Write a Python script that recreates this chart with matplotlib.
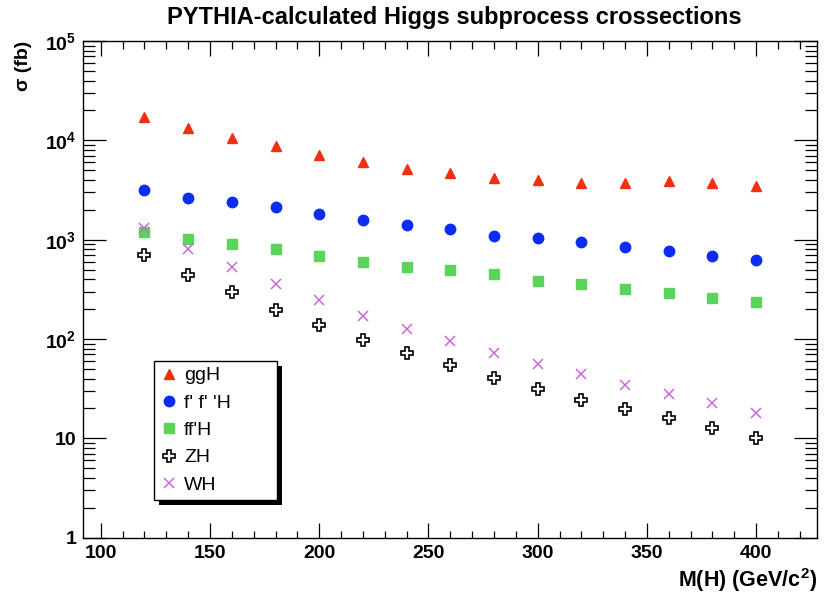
import matplotlib
matplotlib.use("Agg")
import matplotlib.pyplot as plt
from matplotlib.ticker import LogLocator, FixedLocator, MultipleLocator, NullFormatter
from matplotlib.patches import Rectangle
from matplotlib.transforms import IdentityTransform

plt.rcParams['font.family'] = ['Liberation Sans', 'DejaVu Sans']
plt.rcParams['mathtext.fontset'] = 'custom'
plt.rcParams['mathtext.rm'] = 'Liberation Sans:bold'
plt.rcParams['mathtext.bf'] = 'Liberation Sans:bold'
plt.rcParams['mathtext.it'] = 'Liberation Sans:bold'

mass = [120, 140, 160, 180, 200, 220, 240, 260, 280, 300, 320, 340, 360, 380, 400]
ggH = [17300, 13400, 10450, 8740, 7040, 6030, 5170, 4640, 4200, 3970, 3740, 3740, 3940, 3740, 3510]
ffH_prime = [3150, 2610, 2380, 2120, 1800, 1560, 1410, 1285, 1100, 1043, 942, 838, 764, 681, 620]
ffH = [1188, 1019, 907, 800, 691, 601, 535, 492, 448, 384, 361, 319, 291, 257, 236]
ZH = [697, 442, 298, 197, 137, 98.4, 72.3, 54.7, 40.5, 31.6, 24.6, 19.95, 16.0, 12.7, 10.2]
WH = [1303, 808, 527, 358, 247, 172, 126, 95.5, 72.3, 56.4, 44.4, 34.6, 27.9, 22.6, 18.2]

labels = ["ggH", "f' f' 'H", "ff'H", "ZH", "WH"]
xticks = [100, 150, 200, 250, 300, 350, 400]
yticks = [1, 10, 100, 1000, 10000, 100000]
yticklabels = ['1', '10', '$10^{2}$', '$10^{3}$', '$10^{4}$', '$10^{5}$']

W, H = 826, 599
fig = plt.figure(figsize=(W / 100, H / 100), dpi=100)
ax = fig.add_axes([83.3 / W, (H - 537.7) / H, (817.3 - 83.3) / W, (537.7 - 41.0) / H])

l1, = ax.plot(mass, ggH, linestyle='none', marker='^', ms=7, color='#f03010', mec='#f03010')
l2, = ax.plot(mass, ffH_prime, linestyle='none', marker='o', ms=7.5, color='#0a2cf5', mec='#0a2cf5')
l3, = ax.plot(mass, ffH, linestyle='none', marker='s', ms=6.8, color='#5ad45a', mec='#5ad45a')
l4, = ax.plot(mass, ZH, linestyle='none', marker='P', ms=8.5, mfc='white', mec='black', mew=1.2)
l5, = ax.plot(mass, WH, linestyle='none', marker='x', ms=7, color='#cc66dd', mew=1.1)

ax.set_yscale('log')
ax.set_xlim(92, 428)
ax.set_ylim(1, 1e5)

ax.xaxis.set_major_locator(FixedLocator(xticks))
ax.xaxis.set_minor_locator(MultipleLocator(10))
ax.set_xticklabels([str(t) for t in xticks])
ax.yaxis.set_major_locator(FixedLocator(yticks))
ax.set_yticklabels(yticklabels)
ax.yaxis.set_minor_locator(LogLocator(base=10, subs=[2, 3, 4, 5, 6, 7, 8, 9], numticks=20))
ax.yaxis.set_minor_formatter(NullFormatter())

for lab in ax.get_xticklabels() + ax.get_yticklabels():
    lab.set_fontweight('bold')
    lab.set_fontsize(14)

ax.tick_params(axis='x', which='major', direction='in', length=10.8, width=0.9, top=True, pad=5)
ax.tick_params(axis='x', which='minor', direction='in', length=5.4, width=0.9, top=True)
ax.tick_params(axis='y', which='major', direction='in', length=16.5, width=0.9, right=True, pad=5)
ax.tick_params(axis='y', which='minor', direction='in', length=8.3, width=0.9, right=True)
for s in ax.spines.values():
    s.set_linewidth(1.0)

ax.set_xlabel('M(H) (GeV/c$^{2}$)', fontsize=15.5, fontweight='bold', loc='right', labelpad=3)
ax.set_ylabel('σ (fb)', fontsize=14, fontweight='bold', loc='top', labelpad=9)

fig.text(454.5 / W, 1 - 17.5 / H, 'PYTHIA-calculated Higgs subprocess crossections',
         ha='center', va='center', fontsize=17, fontweight='bold')

x0 = (154 - 83.3) / (817.3 - 83.3)
x1 = (276.7 - 83.3) / (817.3 - 83.3)
ytop = (537.7 - 361) / (537.7 - 41.0)
leg = ax.legend([l1, l2, l3, l4, l5], labels, loc='upper left', bbox_to_anchor=(x0, 0.0, x1 - x0, ytop),
                mode='expand', borderaxespad=0, fontsize=14, frameon=True, fancybox=False,
                edgecolor='black', framealpha=1, handlelength=0.9, handletextpad=0.35,
                labelspacing=0.5, borderpad=0.3)
leg.get_frame().set_linewidth(1.0)
leg.set_zorder(10)

fig.canvas.draw()
bb = leg.get_window_extent()
shadow = Rectangle((bb.x0 + 5, bb.y0 - 5), bb.width, bb.height, transform=IdentityTransform(),
                   facecolor='black', edgecolor='none', zorder=9, clip_on=False)
ax.add_artist(shadow)

fig.savefig('out.png', dpi=100)
